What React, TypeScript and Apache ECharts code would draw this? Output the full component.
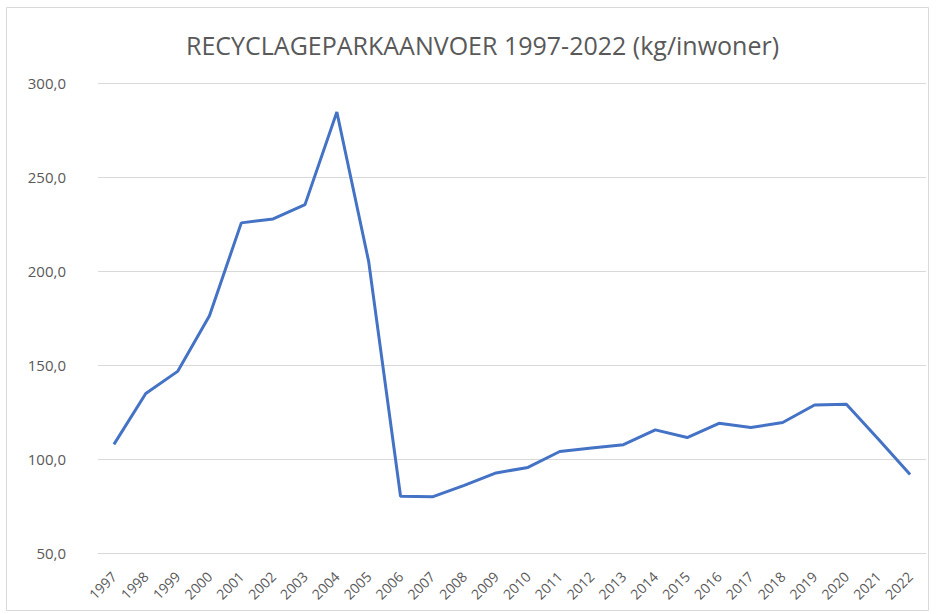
import React, { useEffect, useRef } from "react";
import * as echarts from "echarts";

const TITLE = "RECYCLAGEPARKAANVOER 1997-2022 (kg/inwoner)";
const years = [
  "1997", "1998", "1999", "2000", "2001", "2002", "2003", "2004", "2005", "2006",
  "2007", "2008", "2009", "2010", "2011", "2012", "2013", "2014", "2015", "2016",
  "2017", "2018", "2019", "2020", "2021", "2022",
];
const values = [
  107.8, 134.8, 146.6, 176.2, 225.6, 227.7, 235.3, 284.6, 205.0, 80.2,
  79.9, 86.0, 92.6, 95.5, 104.0, 105.8, 107.6, 115.5, 111.4, 119.0,
  116.7, 119.4, 128.7, 129.1, 110.6, 91.7,
];
const yMin = 50;
const yMax = 300;
const yStep = 50;

export default function App() {
  const ref = useRef<HTMLDivElement>(null);
  useEffect(() => {
    if (!ref.current) return;
    const chart = echarts.init(ref.current, null, { renderer: "svg" });
    chart.setOption({
      animation: false,
      backgroundColor: "#ffffff",
      title: {
        text: TITLE,
        left: 181,
        top: 27,
        textStyle: {
          fontFamily: "Open Sans",
          fontSize: 25,
          fontWeight: "normal",
          color: "#595959",
        },
      },
      graphic: [
        {
          type: "rect",
          shape: { x: 6.5, y: 7.5, width: 922, height: 603 },
          style: { fill: "none", stroke: "#d9d9d9", lineWidth: 1 },
          silent: true,
        },
      ],
      grid: { left: 98, right: 10, top: 83, bottom: 61 },
      xAxis: {
        type: "category",
        data: years,
        boundaryGap: true,
        axisLine: { show: true, lineStyle: { color: "#d9d9d9", width: 1 } },
        axisTick: { show: false },
        axisLabel: {
          rotate: 45,
          interval: 0,
          margin: 21,
          color: "#595959",
          fontFamily: "Open Sans",
          fontSize: 14,
        },
      },
      yAxis: {
        type: "value",
        min: yMin,
        max: yMax,
        interval: yStep,
        axisLine: { show: false },
        axisTick: { show: false },
        splitLine: { lineStyle: { color: "#d9d9d9", width: 1 } },
        axisLabel: {
          margin: 32,
          color: "#595959",
          fontFamily: "Open Sans",
          fontSize: 15,
          formatter: (v: number) => v.toFixed(1).replace(".", ","),
        },
      },
      series: [
        {
          type: "line",
          data: values,
          symbol: "none",
          lineStyle: { color: "#4472C4", width: 3 },
        },
      ],
    });
    return () => chart.dispose();
  }, []);
  return (
    <div
      ref={ref}
      style={{ position: "absolute", left: 0, top: 0, width: 936, height: 614 }}
    />
  );
}
